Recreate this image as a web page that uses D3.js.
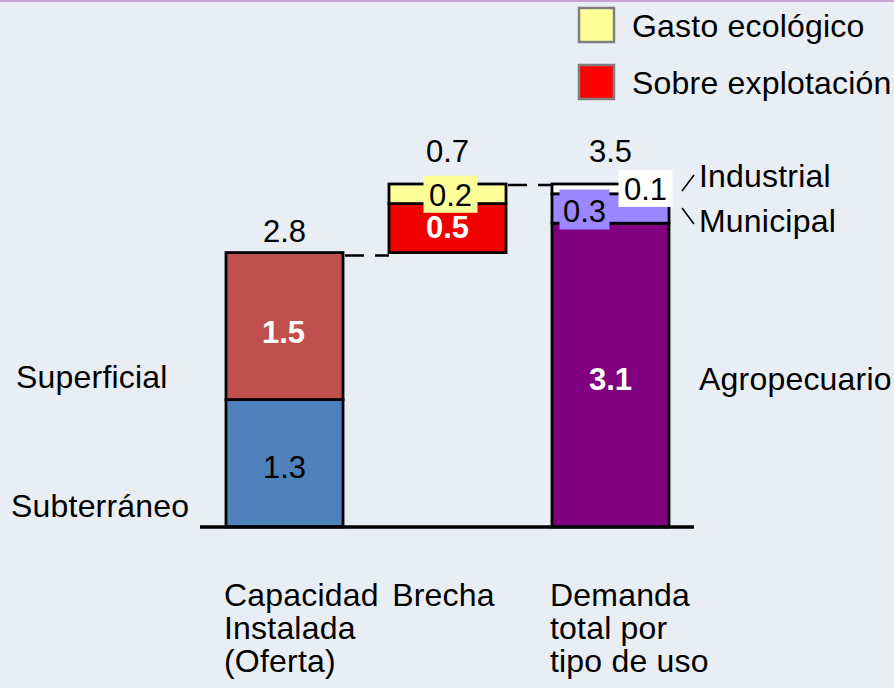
<!DOCTYPE html>
<html>
<head>
<meta charset="utf-8">
<script src="https://cdn.jsdelivr.net/npm/d3@7"></script>
<style>
  html, body { margin: 0; padding: 0; background: #e8eef3; }
  #chart { width: 894px; height: 688px; }
  text { font-family: "Liberation Sans", Arial, sans-serif; fill: #000; }
</style>
</head>
<body>
<div id="chart"></div>
<script>
// datos del gráfico
const categories = ["Capacidad Instalada (Oferta)", "Brecha", "Demanda total por tipo de uso"];
const categoryLines = [["Capacidad", "Instalada", "(Oferta)"], ["Brecha"], ["Demanda", "total por", "tipo de uso"]];
const ofertaNames = ["Subterráneo", "Superficial"];
const ofertaValues = [1.3, 1.5];
const brechaNames = ["Sobre explotación", "Gasto ecológico"];
const brechaValues = [0.5, 0.2];
const demandaNames = ["Agropecuario", "Municipal", "Industrial"];
const demandaValues = [3.1, 0.3, 0.1];
const totals = [2.8, 0.7, 3.5];
const legendNames = ["Gasto ecológico", "Sobre explotación"];

const W = 894, H = 688;
const svg = d3.select("#chart").append("svg").attr("width", W).attr("height", H);

// borde superior
svg.append("rect").attr("x", 0).attr("y", 0).attr("width", W).attr("height", 2).attr("fill", "#c9a2d6");

const x = d3.scaleBand().domain(categories).range([226, 669]).paddingInner(0.282).paddingOuter(0);
const y = d3.scaleLinear().domain([0, 3.5]).range([527, 184]);
const bw = x.bandwidth();

// construir segmentos apilados
function stackSegments(cat, names, values, base, colors) {
    let acc = base;
    return values.map((v, i) => {
        const s = { cat, name: names[i], value: v, y0: acc, y1: acc + v, color: colors[i] };
        acc += v;
        return s;
    });
}
const segOferta = stackSegments(categories[0], ofertaNames, ofertaValues, 0, ["#4f81bd", "#c0504d"]);
const segBrecha = stackSegments(categories[1], brechaNames, brechaValues, totals[0], ["#f00000", "#ffff99"]);
const segDemanda = stackSegments(categories[2], demandaNames, demandaValues, 0, ["#800080", "#9b87ff", "#ffffff"]);
const segments = [...segOferta, ...segBrecha, ...segDemanda];

// líneas punteadas de conexión
const dashes = [
    { x1: x(categories[0]) + bw + 2, x2: x(categories[1]), v: totals[0], dy: 3 },
    { x1: x(categories[1]) + bw + 2, x2: x(categories[2]), v: totals[2], dy: 1 }
];
svg.append("g").selectAll("line").data(dashes).join("line")
    .attr("x1", d => d.x1).attr("x2", d => d.x2)
    .attr("y1", d => y(d.v) + d.dy).attr("y2", d => y(d.v) + d.dy)
    .attr("stroke", "#000").attr("stroke-width", 2.5)
    .attr("stroke-dasharray", "19 11");

// barras
svg.append("g").selectAll("rect").data(segments).join("rect")
    .attr("x", d => x(d.cat))
    .attr("y", d => y(d.y1))
    .attr("width", bw)
    .attr("height", d => y(d.y0) - y(d.y1))
    .attr("fill", d => d.color)
    .attr("stroke", "#000")
    .attr("stroke-width", 2.8);

// eje base
svg.append("line")
    .attr("x1", 200).attr("x2", 694)
    .attr("y1", y(0)).attr("y2", y(0))
    .attr("stroke", "#000").attr("stroke-width", 3.5);

// etiquetas de valores
const labelOpts = {
    "Subterráneo": { dx: 0, dy: 15, bold: false, white: false },
    "Superficial": { dx: -1, dy: 17, bold: true, white: true },
    "Sobre explotación": { dx: 0, dy: 10, bold: true, white: true },
    "Gasto ecológico": { dx: 3, dy: 12, bold: false, white: false, box: "#ffff99" },
    "Agropecuario": { dx: 0, dy: 15, bold: true, white: true },
    "Municipal": { dx: -26, dy: 13, bold: false, white: false, box: "#9b87ff" },
    "Industrial": { dx: 35, dy: 11, bold: false, white: false, box: "#ffffff" }
};
const vl = svg.append("g").selectAll("g").data(segments).join("g")
    .attr("transform", d => {
        const o = labelOpts[d.name];
        return `translate(${x(d.cat) + bw / 2 + o.dx},${y((d.y0 + d.y1) / 2) + o.dy})`;
    });
vl.filter(d => labelOpts[d.name].box)
    .append("rect")
    .attr("x", d => d.name === "Municipal" ? -25 : -27)
    .attr("y", d => d.name === "Municipal" ? -32 : -30)
    .attr("width", d => d.name === "Municipal" ? 50 : 54)
    .attr("height", d => d.name === "Municipal" ? 40 : 37)
    .attr("fill", d => labelOpts[d.name].box);
vl.append("text")
    .attr("text-anchor", "middle")
    .style("font-size", "31px")
    .style("font-weight", d => labelOpts[d.name].bold ? "bold" : "normal")
    .style("fill", d => labelOpts[d.name].white ? "#fff" : "#000")
    .text(d => d3.format(".1f")(d.value));

// totales
const totalTop = [totals[0], totals[0] + totals[1], totals[2]];
const totalDy = [-11, -22, -22];
svg.append("g").selectAll("text").data(categories).join("text")
    .attr("x", d => x(d) + bw / 2)
    .attr("y", (d, i) => y(totalTop[i]) + totalDy[i])
    .attr("text-anchor", "middle")
    .style("font-size", "31px")
    .text((d, i) => d3.format(".1f")(totals[i]));

// etiquetas de categorías
const catG = svg.append("g").selectAll("text").data(categories).join("text")
    .attr("x", (d, i) => i === 1 ? x(d) + bw / 2 - 4 : x(d) - 2)
    .attr("y", 606)
    .attr("text-anchor", (d, i) => i === 1 ? "middle" : "start")
    .style("font-size", "32px")
    .style("letter-spacing", "0.2px");
catG.selectAll("tspan").data((d, i) => categoryLines[i]).join("tspan")
    .attr("x", function () { return d3.select(this.parentNode).attr("x"); })
    .attr("dy", (d, j) => j === 0 ? 0 : 33)
    .text(d => d);

// nombres de series a los lados
const sideLabels = [
    { name: ofertaNames[1], x: 16, v: 1.3, dy: -12 },
    { name: ofertaNames[0], x: 11, v: 0, dy: -10 },
    { name: demandaNames[0], x: 699, v: 3.1 / 2, dy: 15 },
    { name: demandaNames[2], x: 699, v: 3.5, dy: 3 },
    { name: demandaNames[1], x: 699, v: 3.1, dy: 9 }
];
svg.append("g").selectAll("text").data(sideLabels).join("text")
    .attr("x", d => d.x)
    .attr("y", d => y(d.v) + d.dy)
    .style("font-size", "32px")
    .style("letter-spacing", "0.2px")
    .text(d => d.name);

// marcas inclinadas
svg.append("line").attr("x1", 682).attr("y1", 191).attr("x2", 694).attr("y2", 175)
    .attr("stroke", "#000").attr("stroke-width", 1.5);
svg.append("line").attr("x1", 682).attr("y1", 208).attr("x2", 694).attr("y2", 224)
    .attr("stroke", "#000").attr("stroke-width", 1.5);

// leyenda
const legendColors = ["#ffff99", "#ff0000"];
const lg = svg.append("g").selectAll("g").data(legendNames).join("g")
    .attr("transform", (d, i) => `translate(579,${8 + i * 57})`);
lg.append("rect").attr("width", 35).attr("height", 34)
    .attr("fill", (d, i) => legendColors[i])
    .attr("stroke", "#7f7f7f").attr("stroke-width", 2.5);
lg.append("text").attr("x", 53).attr("y", 29)
    .style("font-size", "32px")
    .style("letter-spacing", "0.2px")
    .text(d => d);
</script>
</body>
</html>
